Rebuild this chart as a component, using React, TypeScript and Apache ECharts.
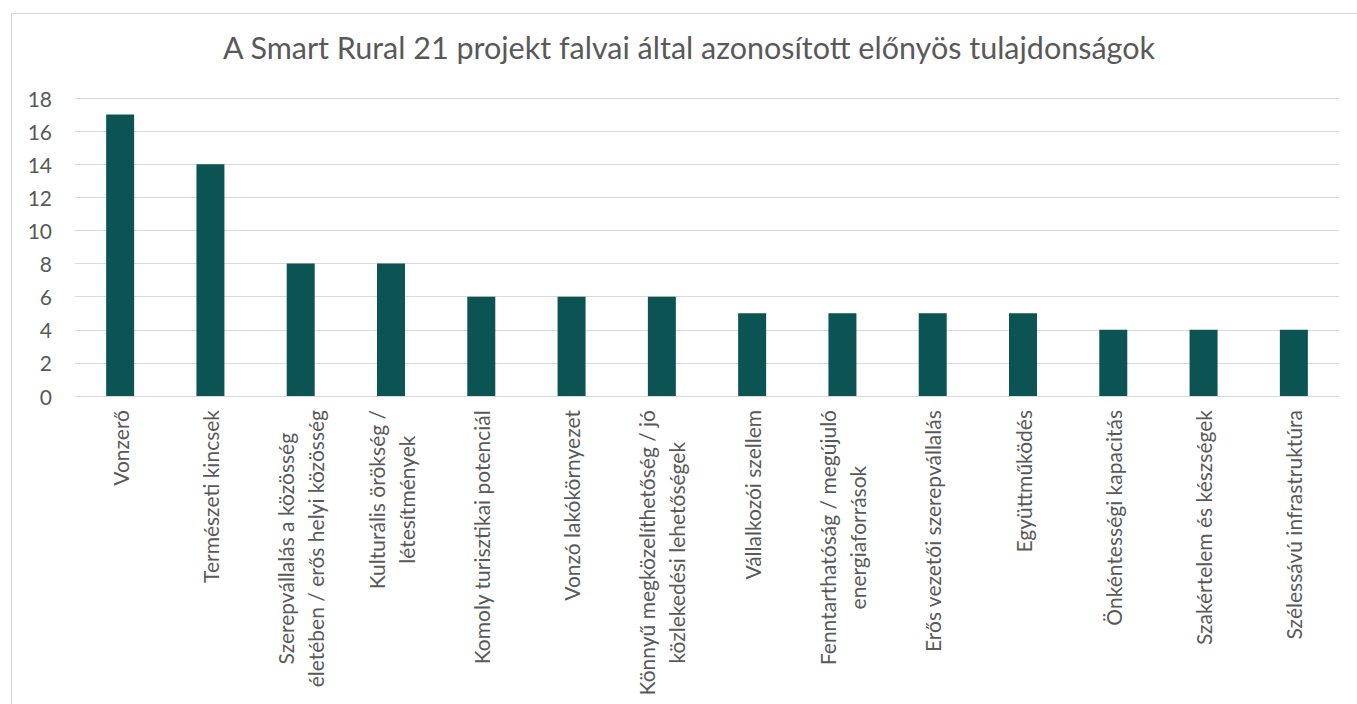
import React, { useEffect, useRef } from "react";
import * as echarts from "echarts";

const titleText = "A Smart Rural 21 projekt falvai által azonosított előnyös tulajdonságok";
const categories = [
  "Vonzerő",
  "Természeti kincsek",
  "Szerepvállalás a közösség\néletében / erős helyi közösség",
  "Kulturális örökség /\nlétesítmények",
  "Komoly turisztikai potenciál",
  "Vonzó lakókörnyezet",
  "Könnyű megközelíthetőség / jó\nközlekedési lehetőségek",
  "Vállalkozói szellem",
  "Fenntarthatóság / megújuló\nenergiaforrások",
  "Erős vezetői szerepvállalás",
  "Együttműködés",
  "Önkéntességi kapacitás",
  "Szakértelem és készségek",
  "Szélessávú infrastruktúra",
];
const values = [17, 14, 8, 8, 6, 6, 6, 5, 5, 5, 5, 4, 4, 4];
const yTicks = { min: 0, max: 18, interval: 2 };

const FONT = "Lato, sans-serif";
const TEXT = "#595959";

export default function App() {
  const ref = useRef<HTMLDivElement>(null);
  useEffect(() => {
    if (!ref.current) return;
    const chart = echarts.init(ref.current, null, { renderer: "svg" });
    chart.setOption({
      animation: false,
      backgroundColor: "#ffffff",
      graphic: [
        {
          type: "rect",
          left: 9,
          top: 11,
          shape: { width: 1400, height: 800 },
          style: { fill: "none", stroke: "#d9d9d9", lineWidth: 1 },
          silent: true,
        },
      ],
      title: {
        text: titleText,
        left: 223,
        top: 31,
        padding: 0,
        textStyle: { fontFamily: FONT, fontSize: 30.5, fontWeight: "normal", color: TEXT },
      },
      grid: { left: 75, right: 18, top: 98, bottom: 308, containLabel: false },
      xAxis: {
        type: "category",
        data: categories,
        axisLine: { lineStyle: { color: "#d9d9d9", width: 1 } },
        axisTick: { show: false },
        axisLabel: {
          interval: 0,
          rotate: 90,
          margin: 14,
          color: TEXT,
          fontFamily: FONT,
          fontSize: 21,
          lineHeight: 30,
          formatter: (v: string) =>
            v
              .split("\n")
              .map((l) => "{c|" + l + "}")
              .join("\n"),
          rich: {
            c: { align: "center", color: TEXT, fontFamily: FONT, fontSize: 21, lineHeight: 30 },
          },
        },
      },
      yAxis: {
        type: "value",
        min: yTicks.min,
        max: yTicks.max,
        interval: yTicks.interval,
        axisLine: { show: false },
        axisTick: { show: false },
        splitLine: { lineStyle: { color: "#d9d9d9", width: 1 } },
        axisLabel: { color: TEXT, fontFamily: FONT, fontSize: 21, margin: 23 },
      },
      series: [
        {
          type: "bar",
          data: values,
          barWidth: "31%",
          itemStyle: { color: "#0b5453" },
        },
      ],
    });
    return () => chart.dispose();
  }, []);
  return (
    <div
      ref={ref}
      style={{ position: "fixed", left: 0, top: 0, width: 1357, height: 704 }}
    />
  );
}
